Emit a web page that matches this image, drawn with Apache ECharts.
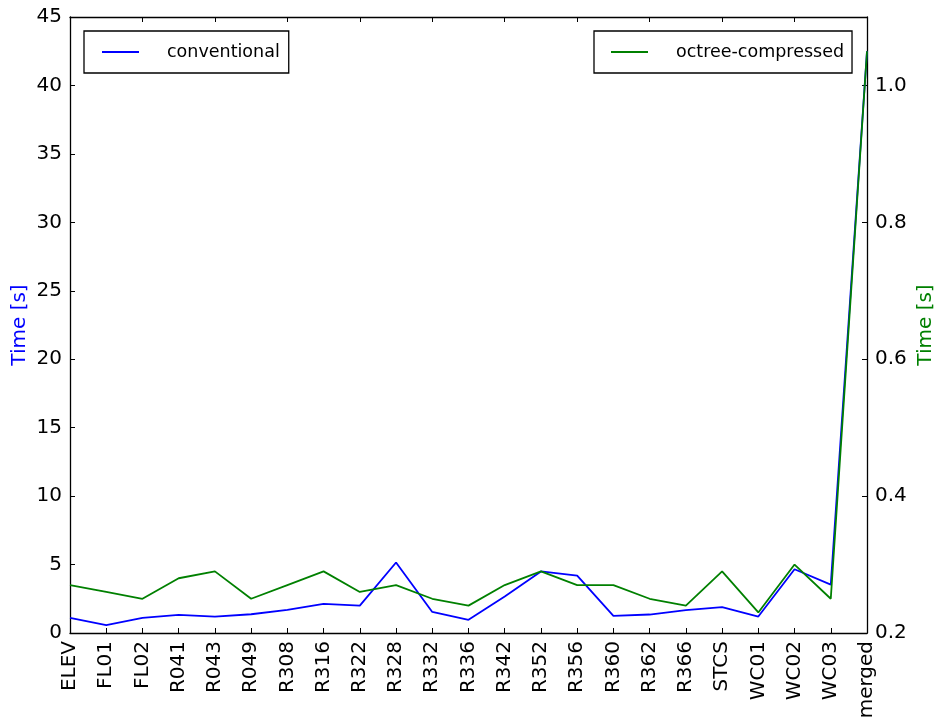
<!DOCTYPE html>
<html>
<head>
<meta charset="utf-8">
<script src="https://cdn.jsdelivr.net/npm/echarts@6/dist/echarts.min.js"></script>
<style>html,body{margin:0;padding:0;background:#fff;overflow:hidden;}#c{width:936px;height:722px;}</style>
</head>
<body>
<div id="c"></div>
<script>
var categories = ['ELEV','FL01','FL02','R041','R043','R049','R308','R316','R322','R328','R332','R336','R342','R352','R356','R360','R362','R366','STCS','WC01','WC02','WC03','merged'];
var conventional = [1.1,0.57,1.1,1.32,1.2,1.37,1.69,2.13,2.0,5.15,1.54,0.96,2.67,4.5,4.19,1.25,1.35,1.67,1.89,1.2,4.66,3.53,42.5];
var octreeCompressed = [0.27,0.26,0.25,0.28,0.29,0.25,0.27,0.29,0.26,0.27,0.25,0.24,0.27,0.29,0.27,0.27,0.25,0.24,0.29,0.23,0.30,0.25,1.05];
var leftTicks = {min:0, max:45, interval:5};
var rightTicks = {min:0.2, max:1.1, interval:0.2};

var FONT = 'DejaVu Sans';
var chart = echarts.init(document.getElementById('c'));
var axisLine = {show:true, lineStyle:{color:'#000', width:1.3}};
var tick = {show:true, inside:true, length:5, lineStyle:{color:'#000', width:1}};
chart.setOption({
  animation:false,
  backgroundColor:'#fff',
  textStyle:{fontFamily:FONT},
  grid:{left:70, right:69, top:17, bottom:89, containLabel:false, outerBoundsMode:'none'},
  legend:[
    {data:['conventional'], left:84, top:31, orient:'horizontal',
     itemWidth:37, itemHeight:2, icon:'rect',
     borderColor:'#000', borderWidth:1.3, borderRadius:0, padding:[12,9,12,18],
     textStyle:{fontFamily:FONT, fontSize:17.5, color:'#000', lineHeight:18, padding:[0,0,0,23]}},
    {data:['octree-compressed'], left:594, top:31, orient:'horizontal',
     itemWidth:37, itemHeight:2, icon:'rect',
     borderColor:'#000', borderWidth:1.3, borderRadius:0, padding:[12,8,12,17],
     textStyle:{fontFamily:FONT, fontSize:17.5, color:'#000', lineHeight:18, padding:[0,0,0,23]}}
  ],
  xAxis:[
    {type:'category', data:categories, boundaryGap:false, position:'bottom',
     axisLine:axisLine, axisTick:tick,
     axisLabel:{rotate:90, fontSize:20, color:'#000', fontFamily:FONT, margin:8, interval:0},
     splitLine:{show:false}},
    {type:'category', data:categories, boundaryGap:false, position:'top',
     axisLine:axisLine, axisTick:tick, axisLabel:{show:false}, splitLine:{show:false}}
  ],
  yAxis:[
    {type:'value', position:'left', min:leftTicks.min, max:leftTicks.max, interval:leftTicks.interval,
     name:'Time [s]', nameLocation:'middle', nameGap:40, nameMoveOverlap:false,
     nameTextStyle:{color:'#0000ff', fontSize:20, fontFamily:FONT},
     axisLine:axisLine, axisTick:tick, splitLine:{show:false},
     axisLabel:{fontSize:20, color:'#000', fontFamily:FONT, margin:8}},
    {type:'value', position:'right', min:rightTicks.min, max:rightTicks.max, interval:rightTicks.interval,
     name:'Time [s]', nameLocation:'middle', nameGap:49, nameRotate:90, nameMoveOverlap:false,
     nameTextStyle:{color:'#008000', fontSize:20, fontFamily:FONT},
     axisLine:axisLine, axisTick:tick, splitLine:{show:false},
     axisLabel:{fontSize:20, color:'#000', fontFamily:FONT, margin:8, showMaxLabel:false,
       formatter:function(v){ return Math.abs(v-1.1)<1e-6 ? '' : v.toFixed(1); }}}
  ],
  series:[
    {name:'conventional', type:'line', data:conventional, xAxisIndex:0, yAxisIndex:0,
     showSymbol:false, symbol:'none', lineStyle:{color:'#0000ff', width:1.8}, itemStyle:{color:'#0000ff'}},
    {name:'octree-compressed', type:'line', data:octreeCompressed, xAxisIndex:0, yAxisIndex:1,
     showSymbol:false, symbol:'none', lineStyle:{color:'#008000', width:1.8}, itemStyle:{color:'#008000'}}
  ]
});
</script>
</body>
</html>
